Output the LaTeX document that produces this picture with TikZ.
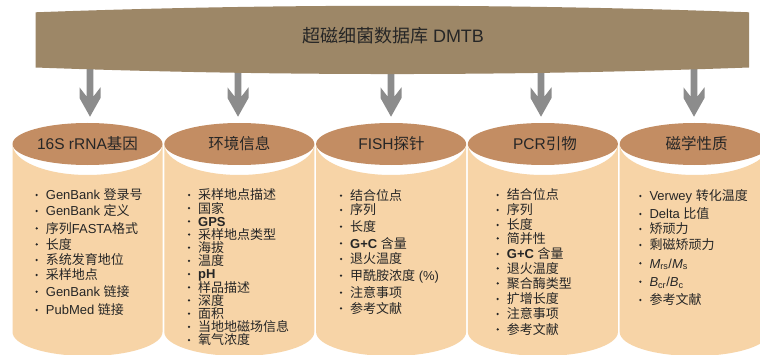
\documentclass[tikz,border=0pt]{standalone}
\usepackage{fontspec}
\setmainfont{Liberation Sans}
\newfontfamily\cjk{Noto Sans CJK SC}
\newcommand\zh[1]{{\cjk #1}}
\definecolor{bannerc}{HTML}{9D8767}
\definecolor{captop}{HTML}{C38D63}
\definecolor{bodyc}{HTML}{F7D4A7}
\definecolor{arrowgray}{HTML}{8C8C8C}
\definecolor{ink}{HTML}{262626}
\tikzset{
  listtext/.style={anchor=base west, inner sep=0pt, text=ink, font=\fontsize{13}{13}\selectfont},
  titletext/.style={inner sep=0pt, text=ink, font=\fontsize{15.5}{15.5}\selectfont},
  pics/downarrow/.style={code={
    \fill[arrowgray] (-3.3,0) -- (-3.3,-36.7) -- (-10.5,-27.3) -- (-10.5,-38) -- (0,-56.7)
      -- (10.5,-38) -- (10.5,-27.3) -- (3.3,-36.7) -- (3.3,0) -- cycle;
  }}
}
\begin{document}
\begin{tikzpicture}[x=1pt,y=1pt]
\clip (0,0) rectangle (760,354);
\fill[white] (0,0) rectangle (760,354);
% cylinders
\foreach \cx [count=\i] in {87.5,239.3,391.1,542.9,694.7}{
  \fill[bodyc] (\cx-75,210) -- (\cx-75,22) arc[start angle=180,end angle=360,x radius=75,y radius=24]
    -- (\cx+75,210) arc[start angle=0,end angle=-180,x radius=75,y radius=31] -- cycle;
  \fill[captop] (\cx,210) ellipse[x radius=75,y radius=21];
  \coordinate (top\i) at (\cx,231);
}
% arrows
\foreach \ax [count=\i] in {90,238,391,541,694}{
  \coordinate (src\i) at (\ax,294);
  \pic at (src\i) {downarrow};
}
% banner
\fill[bannerc] (35.5,286.5) -- (35.5,341.7) .. controls (273.3,350.4) and (511.2,350.4) .. (749,341.7)
  -- (749,286.5) .. controls (511.2,277.8) and (273.3,277.8) .. (35.5,286.5) -- cycle;
\node[inner sep=0pt, text=ink, font=\fontsize{18}{18}\selectfont] (db) at (393,318) {\zh{超磁细菌数据库} DMTB};
% titles
\node[titletext] (h1) at (87.5,210) {16S rRNA\zh{基因}};
\node[titletext] (h2) at (239.3,210) {\zh{环境信息}};
\node[titletext] (h3) at (391.5,210) {FISH\zh{探针}};
\node[titletext] (h4) at (545,210) {PCR\zh{引物}};
\node[titletext] (h5) at (696.5,210) {\zh{磁学性质}};
% lists
\newcommand\listat[3]{%
  \foreach \yy/\tt [count=\k] in {#3}{
    \fill[ink] (#1,\yy) circle (1.25);
    \node[listtext] (#2-\k) at (#1+9,\yy-4.8) {\tt};
  }}
\listat{36.7}{a}{159/{GenBank \zh{登录号}}, 143/{GenBank \zh{定义}}, 125.7/{\zh{序列}FASTA\zh{格式}},
  109.7/{\zh{长度}}, 94/{\zh{系统发育地位}}, 79/{\zh{采样地点}}, 62.3/{GenBank \zh{链接}}, 44/{PubMed \zh{链接}}}
\listat{189}{b}{159/{\zh{采样地点描述}}, 145.8/{\zh{国家}}, 132.6/{\bfseries GPS}, 119.5/{\zh{采样地点类型}},
  106.3/{\zh{海拔}}, 93.1/{\zh{温度}}, 79.9/{\bfseries pH}, 66.7/{\zh{样品描述}}, 53.6/{\zh{深度}},
  40.4/{\zh{面积}}, 27.2/{\zh{当地地磁场信息}}, 14/{\zh{氧气浓度}}}
\listat{341}{c}{158.3/{\zh{结合位点}}, 144/{\zh{序列}}, 127.3/{\zh{长度}}, 110.7/{{\bfseries G+C} \zh{含量}},
  95/{\zh{退火温度}}, 78.3/{\zh{甲酰胺浓度} (\%)}, 61.3/{\zh{注意事项}}, 45.7/{\zh{参考文献}}}
\listat{497.7}{d}{159/{\zh{结合位点}}, 144/{\zh{序列}}, 129/{\zh{长度}}, 115.7/{\zh{简并性}},
  100/{{\bfseries G+C} \zh{含量}}, 85.7/{\zh{退火温度}}, 70.7/{\zh{聚合酶类型}}, 55/{\zh{扩增长度}},
  40/{\zh{注意事项}}, 24.7/{\zh{参考文献}}}
\listat{640.3}{e}{158/{Verwey \zh{转化温度}}, 140/{Delta \zh{比值}}, 125/{\zh{矫顽力}}, 109/{\zh{剩磁矫顽力}},
  90.7/{{\itshape M}\textsubscript{rs}/{\itshape M}\textsubscript{s}}, 72.3/{{\itshape B}\textsubscript{cr}/{\itshape B}\textsubscript{c}},
  54/{\zh{参考文献}}}
\end{tikzpicture}
\end{document}
